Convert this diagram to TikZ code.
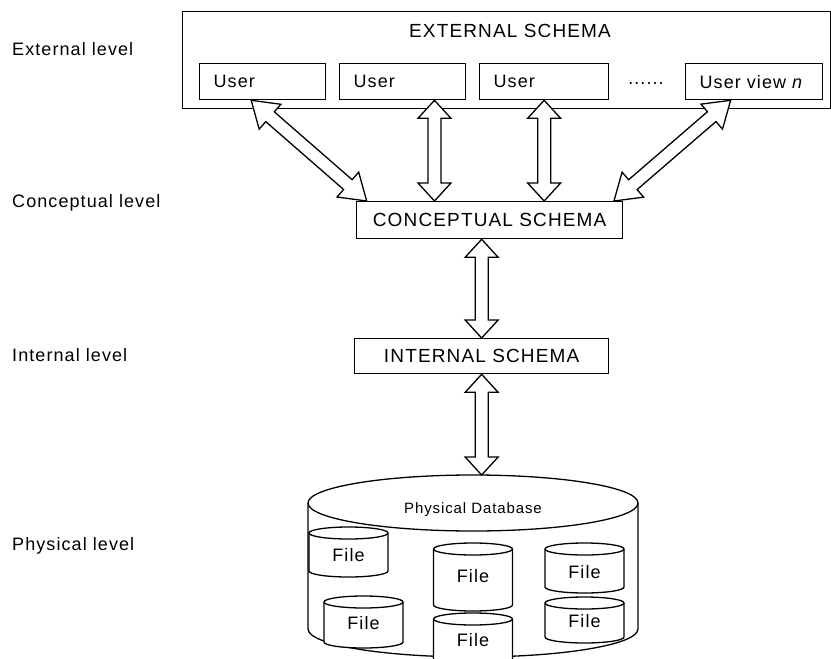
\documentclass[tikz,border=0pt]{standalone}
\usepackage{fontspec}
\setmainfont{Liberation Sans}[LetterSpace=6]
\usetikzlibrary{calc}
\tikzset{
  every node/.style={font=\fontsize{18}{20}\selectfont},
  box/.style={draw, line width=1.3pt, rectangle, inner sep=0pt},
  ubox/.style={box, minimum height=36pt, inner xsep=14pt, align=left, anchor=north west},
  sbox/.style={box, font=\fontsize{19}{21}\selectfont, anchor=north west},
  lvl/.style={anchor=west, inner sep=0pt},
  blockarr/.style={draw, fill=white, line width=1.3pt, line join=miter},
  cyl/.style={draw, fill=white, line width=1.3pt},
  thin/.style={draw, line width=1.3pt},
}
% head length, from, to
\newcommand{\dblarrow}[3][18pt]{%
  \draw[blockarr] (#2)
    -- ($(#2)!#1!(#3)!16.5pt!90:(#3)$)
    -- ($(#2)!#1!(#3)!6.5pt!90:(#3)$)
    -- ($(#3)!#1!(#2)!6.5pt!-90:(#2)$)
    -- ($(#3)!#1!(#2)!16.5pt!-90:(#2)$)
    -- (#3)
    -- ($(#3)!#1!(#2)!16.5pt!90:(#2)$)
    -- ($(#3)!#1!(#2)!6.5pt!90:(#2)$)
    -- ($(#2)!#1!(#3)!6.5pt!-90:(#3)$)
    -- ($(#2)!#1!(#3)!16.5pt!-90:(#3)$)
    -- cycle;}
% name, cx, top-ellipse centre y, bottom-ellipse centre y, text y
\newcommand{\filecyl}[5]{%
  \draw[cyl] (#2-39.5,#3) -- (#2-39.5,#4)
    arc[start angle=180, end angle=360, x radius=39.5pt, y radius=6pt]
    -- (#2+39.5,#3)
    arc[start angle=0, end angle=180, x radius=39.5pt, y radius=6pt] -- cycle;
  \draw[thin] (#2+39.5,#3) arc[start angle=0, end angle=-180, x radius=39.5pt, y radius=6pt];
  \node (#1) at (#2,#5) {File};}
\begin{document}
\begin{tikzpicture}[x=1pt, y=-1pt]
\useasboundingbox (0,0) rectangle (831,659);
\clip (0,0) rectangle (831,659);

% level labels
\node[lvl] (l1) at (12,49) {External level};
\node[lvl] (l2) at (12,203) {Conceptual level};
\node[lvl] (l3) at (12,355) {Internal level};
\node[lvl] (l4) at (12,546) {Physical level};

% external schema
\node[box, minimum width=648pt, minimum height=97pt, anchor=north west] (ext) at (182,11) {};
\node[font=\fontsize{19}{21}\selectfont] (extt) at (510,31) {EXTERNAL SCHEMA};
\node[ubox, text width=98pt] (u1) at (199,63) {User};
\node[ubox, text width=98pt] (u2) at (339,63) {User};
\node[ubox, text width=101pt] (u3) at (479,63) {User};
\node (dots) at (646,84) {......};
\node[ubox, text width=109pt] (u4) at (685,63) {User view \textit{n}};

% conceptual & internal schema
\node[sbox, minimum width=266pt, minimum height=37pt] (cs) at (356,201) {CONCEPTUAL SCHEMA};
\node[sbox, minimum width=254pt, minimum height=35pt] (is) at (354,338) {INTERNAL SCHEMA};

% physical database
\draw[cyl] (308,503) -- (308,629)
  arc[start angle=180, end angle=360, x radius=165pt, y radius=28pt] -- (638,503);
\draw[cyl] (473,503) ellipse[x radius=165pt, y radius=28pt];
\coordinate (dbtop) at (473,475);
\node[font=\fontsize{15}{17}\selectfont] (db) at (473,510) {Physical Database};

\filecyl{f1}{348.5}{533}{571}{555}
\filecyl{f2}{363.5}{602}{642}{623}
\filecyl{f3}{473}{549}{605}{576}
\filecyl{f4}{473}{619}{668}{640}
\filecyl{f5}{584.5}{549}{587}{572}
\filecyl{f6}{584.5}{603}{637}{621}

% connectors
\coordinate (a1t) at ($(u1.south west)!0.41!(u1.south east)$);
\coordinate (a1b) at ($(cs.north west)!0.04!(cs.north east)$);
\coordinate (a2t) at ($(u2.south west)!0.75!(u2.south east)$);
\coordinate (a2b) at (a2t |- cs.north);
\coordinate (a3t) at (u3.south);
\coordinate (a3b) at (u3.south |- cs.north);
\coordinate (a4t) at ($(u4.south west)!0.33!(u4.south east)$);
\coordinate (a4b) at ($(cs.north west)!0.965!(cs.north east)$);
\coordinate (a5t) at (is.north |- cs.south);
\coordinate (a5b) at (is.north);
\coordinate (a6t) at (is.south);
\coordinate (a6b) at (is.south |- dbtop);
\dblarrow[25pt]{a1t}{a1b}
\dblarrow{a2t}{a2b}
\dblarrow{a3t}{a3b}
\dblarrow[25pt]{a4t}{a4b}
\dblarrow{a5t}{a5b}
\dblarrow{a6t}{a6b}
\end{tikzpicture}
\end{document}
